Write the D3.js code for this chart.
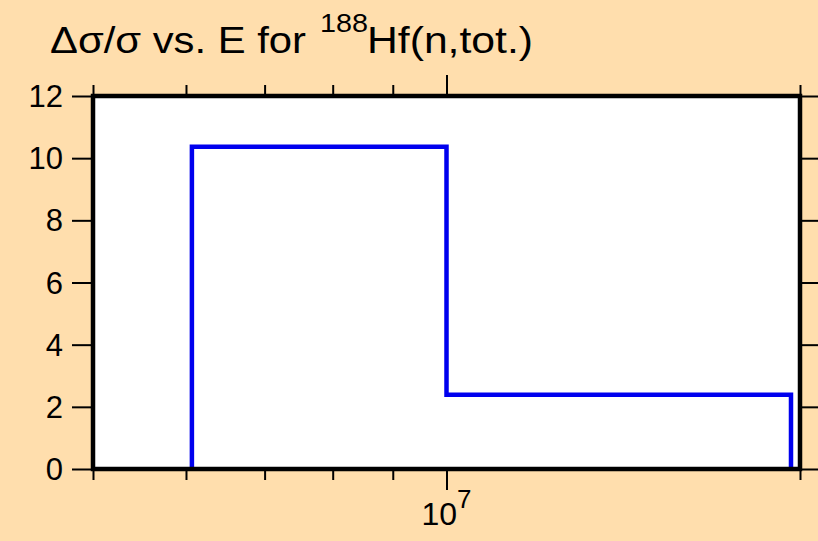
<!DOCTYPE html>
<html>
<head>
<meta charset="utf-8">
<style>
  body { margin: 0; background: #ffdead; }
  svg { display: block; font-family: "Liberation Sans", Arial, sans-serif; }
</style>
</head>
<body>
<script src="https://cdn.jsdelivr.net/npm/d3@7"></script>
<script>
// bin edges (eV) and relative uncertainty in each bin (%)
var edges = [6.07e6, 1.0e7, 1.965e7];
var values = [10.37, 2.39];
var yTicks = [0, 2, 4, 6, 8, 10, 12];
var xMinor = [5e6, 6e6, 7e6, 8e6, 9e6, 2e7];
var xMajor = [1e7];

var width = 818, height = 541;
var pLeft = 93, pRight = 800, pTop = 96, pBottom = 469;

var svg = d3.select("body").append("svg")
    .attr("width", width)
    .attr("height", height);

svg.append("rect").attr("width", width).attr("height", height).attr("fill", "#ffdead");

var x = d3.scaleLog().domain([5e6, 2e7]).range([pLeft, pRight]);
var y = d3.scaleLinear().domain([0, 12]).range([pBottom, pTop]);

// plot area
svg.append("rect")
    .attr("x", pLeft).attr("y", pTop)
    .attr("width", pRight - pLeft).attr("height", pBottom - pTop)
    .attr("fill", "white");

// step line
var pts = [[edges[0], 0]];
values.forEach(function(v, i) { pts.push([edges[i], v]); });
pts.push([edges[edges.length - 1], values[values.length - 1]]);
pts.push([edges[edges.length - 1], 0]);

var line = d3.line()
    .x(function(d) { return x(d[0]); })
    .y(function(d) { return y(d[1]); })
    .curve(d3.curveStepAfter);

svg.append("path")
    .datum(pts)
    .attr("d", line)
    .attr("fill", "none")
    .attr("stroke", "#0000ee")
    .attr("stroke-width", 4.5);

// axes
function styleAxis(g) {
  g.select(".domain").remove();
  g.selectAll("line").attr("stroke", "black").attr("stroke-width", 2);
  g.selectAll("text").remove();
}

svg.append("g").attr("transform", "translate(0," + pBottom + ")")
    .call(d3.axisBottom(x).tickValues(xMinor).tickSize(11)).call(styleAxis);
svg.append("g").attr("transform", "translate(0," + pBottom + ")")
    .call(d3.axisBottom(x).tickValues(xMajor).tickSize(21)).call(styleAxis);
svg.append("g").attr("transform", "translate(0," + pTop + ")")
    .call(d3.axisTop(x).tickValues(xMinor).tickSize(11)).call(styleAxis);
svg.append("g").attr("transform", "translate(0," + pTop + ")")
    .call(d3.axisTop(x).tickValues(xMajor).tickSize(21)).call(styleAxis);

svg.append("g").attr("transform", "translate(" + pLeft + ",0)")
    .call(d3.axisLeft(y).tickValues(yTicks).tickSize(21)).call(styleAxis);
svg.append("g").attr("transform", "translate(" + pRight + ",0)")
    .call(d3.axisRight(y).tickValues(yTicks).tickSize(20)).call(styleAxis);

// frame
svg.append("rect")
    .attr("x", pLeft).attr("y", pTop)
    .attr("width", pRight - pLeft).attr("height", pBottom - pTop)
    .attr("fill", "none")
    .attr("stroke", "black")
    .attr("stroke-width", 4.5);

// y tick labels
svg.append("g")
    .attr("font-size", 31)
    .attr("text-anchor", "end")
  .selectAll("text")
  .data(yTicks)
  .join("text")
    .attr("x", 63)
    .attr("y", function(d) { return y(d); })
    .attr("dy", "0.36em")
    .text(function(d) { return d; });

// x major label 10^7
var xl = svg.append("text")
    .attr("x", x(1e7))
    .attr("y", 525)
    .attr("font-size", 32)
    .attr("text-anchor", "middle");
xl.append("tspan").text("10");
xl.append("tspan").attr("font-size", 26).attr("dy", -17).text("7");

// title, stretched a little to the width of the original lettering
var title = svg.append("g");
title.append("text")
    .attr("x", 50).attr("y", 53).attr("font-size", 37)
    .attr("textLength", 256).attr("lengthAdjust", "spacingAndGlyphs")
    .text("\u0394\u03c3/\u03c3 vs. E for");
title.append("text")
    .attr("x", 320).attr("y", 32).attr("font-size", 25)
    .attr("textLength", 48).attr("lengthAdjust", "spacingAndGlyphs")
    .text("188");
title.append("text")
    .attr("x", 367).attr("y", 53).attr("font-size", 37)
    .attr("textLength", 166).attr("lengthAdjust", "spacingAndGlyphs")
    .text("Hf(n,tot.)");
</script>
</body>
</html>
